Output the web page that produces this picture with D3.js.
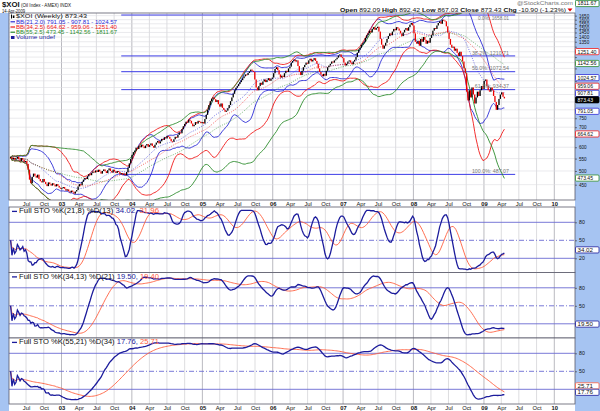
<!DOCTYPE html>
<html>
<head>
<meta charset="utf-8">
<title>$XOI weekly</title>
<script src="https://cdn.jsdelivr.net/npm/d3@7/dist/d3.min.js"></script>
<style>
  body { margin: 0; background: #fff; }
  svg { display: block; font-family: "Liberation Sans", Arial, sans-serif; }
</style>
</head>
<body>
<script>
// weekly closes of $XOI (one per week, week ending Friday)
var close2002 = [556, 548, 553, 545, 550, 558, 547, 540, 552, 545, 536, 540, 528, 505, 468, 455, 478, 490, 482, 475,
  486, 470, 462, 458, 470, 460, 452, 445, 458, 452, 447, 455, 450, 444, 452, 446, 440, 436];
var close2003 = [438, 442, 436, 430, 434, 428, 424, 430, 426, 420, 427, 432, 444, 452, 448, 460, 468, 474, 470, 480,
  488, 484, 492, 498, 494, 502, 496, 505, 498, 490, 500, 506, 499, 492, 503, 510, 500, 494, 505, 498,
  492, 500, 496, 488, 492, 486, 490, 484, 496, 512, 530, 548];
var close2004 = [566, 578, 585, 598, 592, 605, 600, 612, 604, 596, 608, 615, 602, 610, 618, 606, 598, 612,
  622, 630, 618, 628, 640, 635, 648, 642, 655, 650, 640, 628, 626, 638, 650, 646, 660, 672, 668,
  690, 705, 718, 730, 725, 742, 735, 720, 705, 712, 728, 720, 735, 730, 722, 728];
var close2005 = [720, 745, 770, 800, 830, 855, 872, 880, 868, 850, 862, 835, 820, 840, 812, 800, 788, 795, 810, 830,
  855, 880, 905, 930, 948, 960, 975, 990, 1005, 1020, 1035, 1050, 1045, 1062, 1075, 1090, 1080, 1070,
  1010, 950, 930, 960, 985, 970, 995, 1010, 990, 1005, 1020, 1000, 1015, 1025];
var close2006 = [1060, 1095, 1110, 1085, 1050, 1025, 1040, 1030, 1060, 1080, 1070, 1100, 1115, 1150, 1165, 1178,
  1160, 1170, 1120, 1070, 1045, 1080, 1110, 1130, 1150, 1140, 1170, 1185, 1160, 1175, 1190, 1165, 1140,
  1100, 1070, 1050, 1035, 1055, 1040, 1080, 1110, 1125, 1140, 1160, 1150, 1170, 1180, 1195, 1215, 1225, 1200, 1190];
var close2007 = [1150, 1125, 1140, 1160, 1170, 1150, 1135, 1160, 1175, 1200, 1240, 1270, 1290, 1320, 1335, 1350,
  1390, 1420, 1440, 1470, 1450, 1490, 1510, 1480, 1500, 1515, 1460, 1380, 1320, 1280, 1310, 1340,
  1380, 1410, 1440, 1420, 1460, 1490, 1475, 1510, 1495, 1470, 1440, 1410, 1450, 1480, 1500, 1470, 1510,
  1540, 1560, 1530];
var close2008 = [1440, 1350, 1330, 1360, 1310, 1380, 1350, 1400, 1370, 1330, 1360, 1340, 1390, 1420, 1470, 1500,
  1490, 1530, 1560, 1580, 1550, 1600, 1590, 1580, 1520, 1450, 1380, 1320, 1290, 1300, 1260, 1280, 1240,
  1210, 1250, 1210, 1160, 1100, 1060, 920, 860, 930, 880, 950, 900, 840, 880, 920, 890, 930, 960, 940];
var close2009 = [1000, 1010, 960, 930, 920, 950, 930, 890, 850, 800, 830, 870, 900, 915, 884.33, 873.43];
var firstWeek = new Date(2002, 3, 12);

// text
var quote = [["Open", "892.09"], ["High", "892.42"], ["Low", "867.03"], ["Close", "873.43"], ["Chg", "-10.90 (-1.23%)"]];
var lastClose = 873.43;
var bbParams = [[21, 2.0], [34, 2.5], [55, 2.5]];
var bbLast = [[791.05, 907.81, 1024.57], [664.62, 959.06, 1251.40], [473.45, 1142.56, 1811.67]];
var fibPct = ["0.0%", "38.2%", "50.0%", "61.8%", "100.0%"];
var fibValues = [1658.01, 1210.71, 1072.54, 934.37, 487.07];
var fibFrom = new Date(2003, 10, 7), fibTo = new Date(2009, 5, 12);
var priceTicks = d3.range(450, 1651, 50);
var stoParams = [[21, 8, 13], [34, 13, 21], [55, 21, 34]];
var stoLast = [[34.02, 31.96], [19.50, 19.40], [17.76, 25.71]];
var stoLevels = [20, 50, 80];

// colours
var axisBlue = "#a6c4f2", frame = "#5a5a6a";
var bbColors = ["#2a2ad6", "#f01818", "#2c8c2c"];
var kColor = "#1c1c9c", dColor = "#ff6040", levelColor = "#6a6ad2";

var W = 600, H = 411, plotL = 9, plotR = 575;
var mainTop = 13, mainBot = 200;
var panels = [{ top: 207, bot: 272.5 }, { top: 272.5, bot: 338 }, { top: 338, bot: 404 }];

var closes = [].concat(close2002, close2003, close2004, close2005, close2006, close2007, close2008, close2009);
var bars = closes.map(function(c, i) {
  var o = i ? closes[i - 1] : c;
  return { date: d3.timeWeek.offset(firstWeek, i), open: o, close: c, high: Math.max(o, c), low: Math.min(o, c) };
});

function sma(vals, n) {
  return vals.map(function(v, i) { return d3.mean(vals.slice(Math.max(0, i - n + 1), i + 1)); });
}
function bollinger(n, k) {
  return closes.map(function(c, i) {
    var w = closes.slice(Math.max(0, i - n + 1), i + 1);
    var m = d3.mean(w);
    var sd = Math.sqrt(d3.mean(w, function(v) { return (v - m) * (v - m); }));
    return { date: bars[i].date, mid: m, up: m + k * sd, lo: m - k * sd };
  });
}
function fullSto(n, s, dn) {
  var fast = bars.map(function(b, i) {
    var w = bars.slice(Math.max(0, i - n + 1), i + 1);
    var hh = d3.max(w, function(d) { return d.high; }), ll = d3.min(w, function(d) { return d.low; });
    return hh > ll ? 100 * (b.close - ll) / (hh - ll) : 50;
  });
  var k = sma(fast, s), d = sma(k, dn);
  return bars.map(function(b, i) { return { date: b.date, k: k[i], d: d[i] }; });
}

var x = d3.scaleTime().domain([new Date(2003, 0, 1), new Date(2010, 0, 1)]).range([61.5, 554.3]);
var y = d3.scaleLog().domain([400, 1684]).range([mainBot, mainTop]);
var qTicks = d3.timeMonth.range(new Date(2002, 6, 1), new Date(2010, 0, 2), 3);

var svg = d3.select("body").append("svg").attr("width", W).attr("height", H);
svg.append("rect").attr("width", W).attr("height", H).attr("fill", "#fff");
svg.append("rect").attr("x", 0).attr("y", mainTop).attr("width", plotL).attr("height", H - mainTop).attr("fill", axisBlue);
svg.append("rect").attr("x", plotR).attr("y", 0).attr("width", W - plotR).attr("height", H).attr("fill", axisBlue);

var defs = svg.append("defs");
function clip(id, top, bot) {
  defs.append("clipPath").attr("id", id).append("rect")
    .attr("x", plotL).attr("y", top).attr("width", plotR - plotL).attr("height", bot - top);
  return "url(#" + id + ")";
}
// squeeze or stretch a text to the width it has in the picture
function fit(t, w) {
  return t.attr("textLength", w).attr("lengthAdjust", "spacingAndGlyphs");
}

function vGrid(g, top, bot) {
  g.selectAll("line.vg").data(qTicks).enter().append("line")
    .attr("x1", function(d) { return x(d); }).attr("x2", function(d) { return x(d); })
    .attr("y1", top).attr("y2", bot)
    .attr("stroke", function(d) { return d.getMonth() === 0 ? "#a8a8b0" : "#d4d4d8"; })
    .attr("stroke-width", 0.8);
}

// value boxes on the right axis, pushed apart so they do not cover each other
function placeBoxes(items) {
  items.sort(function(a, b) { return a.y - b.y; });
  for (var i = 1; i < items.length; i++) {
    if (items[i].y < items[i - 1].y + 6.4) items[i].y = items[i - 1].y + 6.4;
  }
  return items;
}
function drawBox(b) {
  var g = svg.append("g").attr("transform", "translate(" + (plotR + 0.5) + "," + b.y + ")");
  g.append("rect").attr("x", 0).attr("y", -3.1).attr("width", 23.5).attr("height", 6.2).attr("rx", 1)
    .attr("fill", b.dark ? "#000" : "#fff").attr("stroke", b.color).attr("stroke-width", 0.8);
  fit(g.append("text").attr("x", 2).attr("y", 2).attr("font-size", 5.5)
    .attr("fill", b.dark ? "#fff" : "#111").text(b.label), b.label.length > 6 ? 19 : 15.5);
}
function hideCovered(ax, scale, boxes) {
  ax.selectAll(".tick").filter(function(d) {
    return boxes.some(function(b) { return Math.abs(scale(d) - b.y) < 6; });
  }).select("text").remove();
}

function timeLabels(yPos) {
  var ax = svg.append("g").attr("transform", "translate(0," + yPos + ")")
    .call(d3.axisBottom(x).tickValues(qTicks).tickSize(0).tickPadding(2.2)
      .tickFormat(function(d) { return d.getMonth() === 0 ? d3.timeFormat("%y")(d) : d3.timeFormat("%b")(d); }));
  ax.select(".domain").remove();
  ax.selectAll("text").attr("font-size", 5.8).attr("font-family", "Liberation Sans, Arial, sans-serif").attr("fill", "#111")
    .attr("font-weight", function(d) { return d.getMonth() === 0 ? "bold" : "normal"; });
}

// ---------- main price panel ----------
var main = svg.append("g");
main.append("rect").attr("x", plotL).attr("y", mainTop).attr("width", plotR - plotL).attr("height", mainBot - mainTop).attr("fill", "#fff");
vGrid(main, mainTop, mainBot);
main.selectAll("line.hg").data(priceTicks).enter().append("line")
  .attr("x1", plotL).attr("x2", plotR)
  .attr("y1", function(d) { return y(d); }).attr("y2", function(d) { return y(d); })
  .attr("stroke", "#dcdce0").attr("stroke-width", 0.6);

var plot = main.append("g").attr("clip-path", clip("clipMain", mainTop, mainBot));

fibValues.forEach(function(v) {
  plot.append("line").attr("x1", x(fibFrom)).attr("x2", x(fibTo)).attr("y1", y(v)).attr("y2", y(v))
    .attr("stroke", "#3c3ce6").attr("stroke-width", 1);
});

bbParams.forEach(function(p, j) {
  var band = bollinger(p[0], p[1]);
  ["up", "lo", "mid"].forEach(function(key) {
    plot.append("path").datum(band)
      .attr("fill", "none").attr("stroke", bbColors[j])
      .attr("stroke-width", key === "mid" ? 0.8 : 0.9)
      .attr("stroke-dasharray", key === "mid" ? "1,1.4" : null)
      .attr("opacity", key === "mid" ? 0.8 : 1)
      .attr("d", d3.line().x(function(d) { return x(d.date); }).y(function(d) { return y(d[key]); }));
  });
});

plot.selectAll("rect.bar").data(bars).enter().append("rect")
  .attr("x", function(d) { return x(d.date) - 0.65; })
  .attr("width", 1.3)
  .attr("y", function(d) { return y(d.high); })
  .attr("height", function(d) { return Math.max(1, y(d.low) - y(d.high)); })
  .attr("fill", function(d) { return d.close >= d.open ? "#000" : "#ee0000"; });

// level labels sit just above their line; the top one goes just under it, below the quote line
fibValues.forEach(function(v, i) {
  plot.append("text").attr("x", 509).attr("y", i ? y(v) - 1.3 : y(v) + 5.4).attr("text-anchor", "end")
    .attr("font-size", i ? 5.3 : 4.8).attr("fill", "#777").text(fibPct[i] + ": " + v.toFixed(2));
});

main.append("rect").attr("x", plotL).attr("y", mainTop).attr("width", plotR - plotL).attr("height", mainBot - mainTop)
  .attr("fill", "none").attr("stroke", frame).attr("stroke-width", 0.8);

var yAx = svg.append("g").attr("transform", "translate(" + plotR + ",0)")
  .call(d3.axisRight(y).tickValues(priceTicks).tickSize(2).tickPadding(2).tickFormat(d3.format("d")));
yAx.select(".domain").remove();
yAx.selectAll("text").attr("font-size", 4.6).attr("fill", "#111").attr("font-family", "Liberation Sans, Arial, sans-serif");
yAx.selectAll("line").attr("stroke", "#333").attr("stroke-width", 0.6);

// legend
var lg = svg.append("g").attr("font-size", 6);
lg.append("rect").attr("x", 11).attr("y", 14.5).attr("width", 1).attr("height", 4).attr("fill", "#000");
lg.append("rect").attr("x", 12.8).attr("y", 15.5).attr("width", 1.6).attr("height", 2.5).attr("fill", "#000");
fit(lg.append("text").attr("x", 16).attr("y", 18.2).attr("fill", "#111").text("$XOI (Weekly) " + lastClose.toFixed(2)), 71);
bbParams.forEach(function(p, j) {
  var yy = 23.6 + j * 5.2;
  lg.append("line").attr("x1", 10.5).attr("x2", 15).attr("y1", yy - 1.8).attr("y2", yy - 1.8)
    .attr("stroke", bbColors[j]).attr("stroke-width", 1.2);
  fit(lg.append("text").attr("x", 16).attr("y", yy).attr("fill", bbColors[j])
    .text("BB(" + p[0] + "," + p[1].toFixed(1) + ") " + bbLast[j].map(function(v) { return v.toFixed(2); }).join(" - ")), 101);
});
lg.append("rect").attr("x", 11).attr("y", 36).attr("width", 3.5).attr("height", 3).attr("fill", "#1c1c9c");
fit(lg.append("text").attr("x", 16).attr("y", 39.2).attr("fill", "#1c1c9c").text("Volume undef"), 39);

// value boxes on the price axis
var mainBoxes = [];
bbLast.forEach(function(vals, j) {
  vals.forEach(function(v) { mainBoxes.push({ y: y(v), label: v.toFixed(2), color: bbColors[j], dark: false }); });
});
mainBoxes.push({ y: y(lastClose), label: lastClose.toFixed(2), color: "#000", dark: true });
placeBoxes(mainBoxes);
hideCovered(yAx, y, mainBoxes);
mainBoxes.forEach(drawBox);

timeLabels(mainBot);

// ---------- full stochastics panels ----------
panels.forEach(function(pn, j) {
  var p = stoParams[j];
  var sto = fullSto(p[0], p[1], p[2]);
  var ys = d3.scaleLinear().domain([0, 100]).range([pn.top + 63.3, pn.top + 3.3]);
  var g = svg.append("g");
  g.append("rect").attr("x", plotL).attr("y", pn.top).attr("width", plotR - plotL).attr("height", pn.bot - pn.top).attr("fill", "#fff");
  vGrid(g, pn.top, pn.bot);
  stoLevels.forEach(function(lv) {
    g.append("line").attr("x1", plotL).attr("x2", plotR).attr("y1", ys(lv)).attr("y2", ys(lv))
      .attr("stroke", levelColor).attr("stroke-width", 0.9)
      .attr("stroke-dasharray", lv === 50 ? "5,2,1,2" : null);
  });
  var pg = g.append("g").attr("clip-path", clip("clipSto" + j, pn.top, pn.bot));
  pg.append("path").datum(sto).attr("fill", "none").attr("stroke", dColor).attr("stroke-width", 0.9)
    .attr("d", d3.line().x(function(d) { return x(d.date); }).y(function(d) { return ys(d.d); }));
  pg.append("path").datum(sto).attr("fill", "none").attr("stroke", kColor).attr("stroke-width", 1.3)
    .attr("d", d3.line().x(function(d) { return x(d.date); }).y(function(d) { return ys(d.k); }));
  g.append("rect").attr("x", plotL).attr("y", pn.top).attr("width", plotR - plotL).attr("height", pn.bot - pn.top)
    .attr("fill", "none").attr("stroke", frame).attr("stroke-width", 0.8);

  g.append("line").attr("x1", 12).attr("x2", 17).attr("y1", pn.top + 4.4).attr("y2", pn.top + 4.4)
    .attr("stroke", kColor).attr("stroke-width", 1.3);
  var t = g.append("text").attr("x", 19).attr("y", pn.top + 6.4).attr("font-size", 6.8);
  t.append("tspan").attr("fill", "#111").text("Full STO %K(" + p[0] + "," + p[1] + ") %D(" + p[2] + ") ");
  t.append("tspan").attr("fill", kColor).text(stoLast[j][0].toFixed(2) + ", ");
  t.append("tspan").attr("fill", dColor).text(stoLast[j][1].toFixed(2));
  fit(t, 140);

  var ax = svg.append("g").attr("transform", "translate(" + plotR + ",0)")
    .call(d3.axisRight(ys).tickValues(stoLevels).tickSize(2).tickPadding(2));
  ax.select(".domain").remove();
  ax.selectAll("text").attr("font-size", 5.2).attr("fill", "#111").attr("font-family", "Liberation Sans, Arial, sans-serif");
  ax.selectAll("line").attr("stroke", "#333").attr("stroke-width", 0.6);

  // the %D box is only shown when it does not sit on top of the %K box
  var boxes = [{ y: ys(stoLast[j][0]), label: stoLast[j][0].toFixed(2), color: kColor, dark: false }];
  if (Math.abs(ys(stoLast[j][1]) - ys(stoLast[j][0])) >= 3) {
    boxes.push({ y: ys(stoLast[j][1]), label: stoLast[j][1].toFixed(2), color: dColor, dark: false });
  }
  placeBoxes(boxes);
  hideCovered(ax, ys, boxes);
  boxes.forEach(drawBox);
});

timeLabels(panels[2].bot);

// ---------- header ----------
var hd = svg.append("g");
hd.append("text").attr("x", 2).attr("y", 6.8).attr("fill", "#111").attr("font-size", 7.8).attr("font-weight", "bold").text("$XOI");
fit(hd.append("text").attr("x", 21).attr("y", 6.8).attr("font-size", 5.2).attr("fill", "#111").text("(Oil Index - AMEX) INDX"), 50);
fit(hd.append("text").attr("x", 2).attr("y", 13.2).attr("font-size", 5).attr("fill", "#111").text("14-Apr-2009"), 23);
fit(hd.append("text").attr("x", 517).attr("y", 5.2).attr("font-size", 5.2).attr("fill", "#777").text("@StockCharts.com"), 56);
var q = hd.append("text").attr("x", 340).attr("y", 12).attr("font-size", 6).attr("fill", "#111");
quote.forEach(function(pair, i) {
  q.append("tspan").attr("font-weight", "bold").text((i ? "  " : "") + pair[0] + " ");
  q.append("tspan").text(pair[1]);
});
fit(q, 226);
hd.append("path").attr("d", "M567.5,8.4 L572.5,8.4 L570,11.4 Z").attr("fill", "#e00000");
</script>
</body>
</html>
